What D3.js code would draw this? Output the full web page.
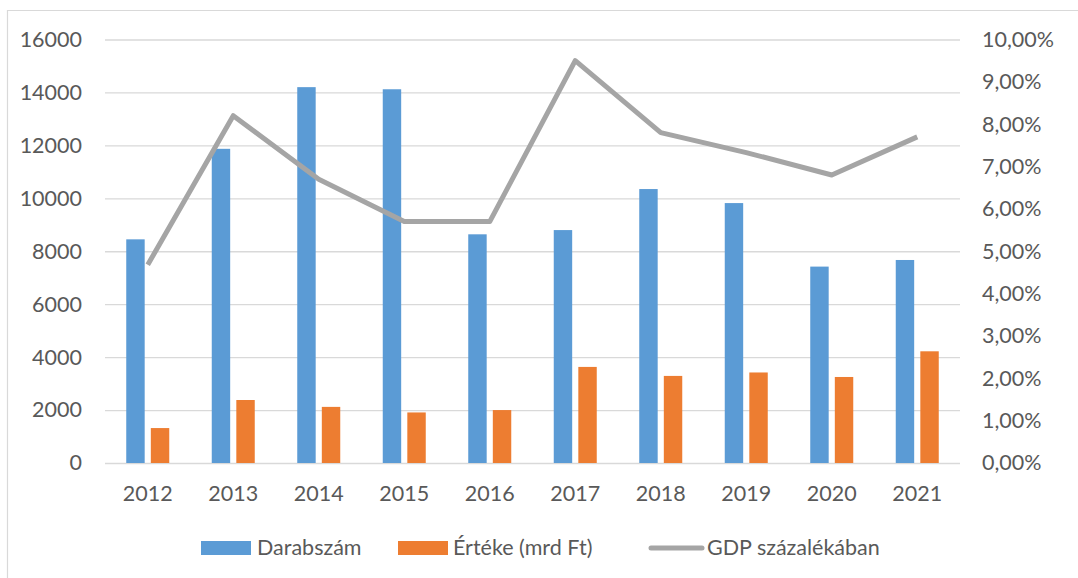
<!DOCTYPE html>
<head>
  <meta charset="utf-8">
  <script src="https://d3js.org/d3.v7.min.js"></script>
  <style>
    body { margin: 0; background: #fff; }
    text { font-family: Lato, "Open Sans", sans-serif; fill: #595959; }
  </style>
</head>
<body>
<svg width="1078" height="578"></svg>
<script>

  // data
  let years = ["2012", "2013", "2014", "2015", "2016", "2017", "2018", "2019", "2020", "2021"];
  let darabszam = [8450, 11870, 14200, 14120, 8640, 8800, 10350, 9820, 7420, 7670];
  let erteke = [1320, 2380, 2120, 1910, 2000, 3630, 3290, 3420, 3250, 4220];
  let gdpPct = [4.68, 8.2, 6.7, 5.7, 5.7, 9.5, 7.8, 7.33, 6.8, 7.7];
  let leftTicks = [0, 2000, 4000, 6000, 8000, 10000, 12000, 14000, 16000];
  let rightTicks = [0, 1, 2, 3, 4, 5, 6, 7, 8, 9, 10];

  let svg = d3.select("svg"),
    plotLeft = 105, plotRight = 960, plotTop = 39.5, plotBottom = 463,
    fontSize = "21.5px";

  // chart frame (cut off at right and bottom)
  svg.append("path")
    .attr("d", "M7.5,578V10.5H1078")
    .attr("fill", "none")
    .attr("stroke", "#d9d9d9")
    .attr("stroke-width", 1.2);

  let x0 = d3.scaleBand().domain(years).range([plotLeft, plotRight]);
  let x1 = d3.scaleBand().domain(["d", "e"])
    .range([x0.bandwidth() / 2 - 21.5, x0.bandwidth() / 2 + 21.5])
    .paddingInner(0.25);
  let y = d3.scaleLinear().domain([0, 16000]).range([plotBottom, plotTop]);
  let y2 = d3.scaleLinear().domain([0, 10]).range([plotBottom, plotTop]);

  // gridlines
  let grid = svg.append("g")
    .attr("transform", "translate(" + plotLeft + ",0)")
    .call(d3.axisLeft(y).tickValues(leftTicks).tickSize(-(plotRight - plotLeft)).tickFormat(""));
  grid.select(".domain").remove();
  grid.selectAll("line").attr("stroke", "#d9d9d9").attr("stroke-width", 1.3);

  // left axis labels
  let yl = svg.append("g")
    .attr("transform", "translate(" + 82 + ",0)")
    .call(d3.axisLeft(y).tickValues(leftTicks).tickSize(0).tickPadding(0).tickFormat(d3.format("d")));
  yl.select(".domain").remove();
  yl.selectAll("text").style("font-size", fontSize).style("fill", "#595959");

  // right axis labels
  let fmtPct = function (d) { return d3.format(".2f")(d).replace(".", ",") + "%"; };
  let yr = svg.append("g")
    .attr("transform", "translate(" + 982 + ",0)")
    .call(d3.axisRight(y2).tickValues(rightTicks).tickSize(0).tickPadding(0).tickFormat(fmtPct));
  yr.select(".domain").remove();
  yr.selectAll("text").style("font-size", fontSize).style("fill", "#595959");

  // x axis labels
  let xa = svg.append("g")
    .attr("transform", "translate(0," + plotBottom + ")")
    .call(d3.axisBottom(x0).tickSize(0).tickPadding(23));
  xa.select(".domain").remove();
  xa.selectAll("text").style("font-size", fontSize).style("fill", "#595959");

  // bars
  svg.append("g").selectAll("rect")
    .data(years)
    .join("rect")
    .attr("x", function (d) { return x0(d) + x1("d"); })
    .attr("y", function (d, i) { return y(darabszam[i]); })
    .attr("width", x1.bandwidth())
    .attr("height", function (d, i) { return y(0) - y(darabszam[i]); })
    .attr("fill", "#5b9bd5");

  svg.append("g").selectAll("rect")
    .data(years)
    .join("rect")
    .attr("x", function (d) { return x0(d) + x1("e"); })
    .attr("y", function (d, i) { return y(erteke[i]); })
    .attr("width", x1.bandwidth())
    .attr("height", function (d, i) { return y(0) - y(erteke[i]); })
    .attr("fill", "#ed7d31");

  // GDP line
  let line = d3.line()
    .x(function (d, i) { return x0(years[i]) + x0.bandwidth() / 2; })
    .y(function (d) { return y2(d); });

  svg.append("path")
    .datum(gdpPct)
    .attr("d", line)
    .attr("fill", "none")
    .attr("stroke", "#a5a5a5")
    .attr("stroke-width", 5)
    .attr("stroke-linejoin", "round");

  // legend
  let lg = svg.append("g");
  lg.append("rect").attr("x", 201).attr("y", 541).attr("width", 50).attr("height", 14).attr("fill", "#5b9bd5");
  lg.append("text").attr("x", 257).attr("y", 555).style("font-size", fontSize).text("Darabszám");
  lg.append("rect").attr("x", 398).attr("y", 541).attr("width", 50).attr("height", 14).attr("fill", "#ed7d31");
  lg.append("text").attr("x", 453).attr("y", 555).style("font-size", fontSize).text("Értéke (mrd Ft)");
  lg.append("line").attr("x1", 651).attr("x2", 702).attr("y1", 548).attr("y2", 548)
    .attr("stroke", "#a5a5a5").attr("stroke-width", 5).attr("stroke-linecap", "round");
  lg.append("text").attr("x", 707).attr("y", 555).style("font-size", fontSize).text("GDP százalékában");

</script>
</body>
